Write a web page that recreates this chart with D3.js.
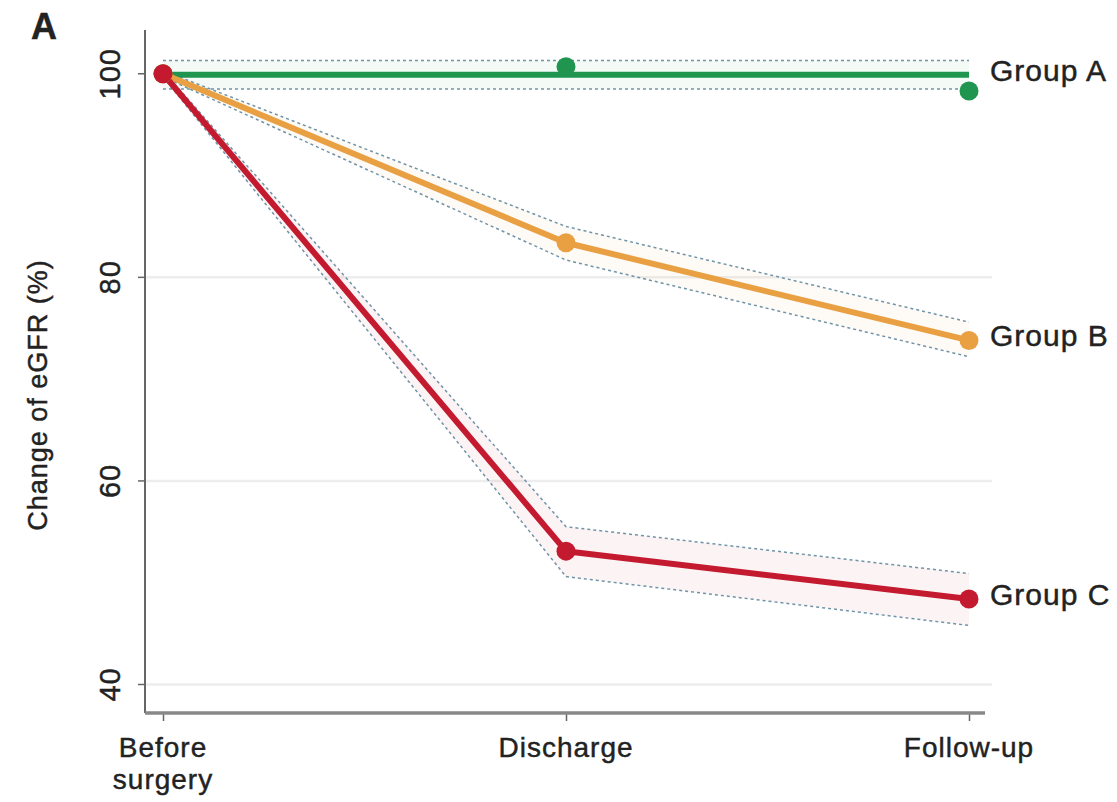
<!DOCTYPE html>
<html>
<head>
<meta charset="utf-8">
<script src="https://cdn.jsdelivr.net/npm/d3@7"></script>
<style>
  html, body { margin: 0; padding: 0; background: #fff; }
  svg { display: block; }
  text { font-family: "Liberation Sans", Arial, sans-serif; fill: #222; stroke: #222; stroke-width: 0.45px; letter-spacing: 1px; }
</style>
</head>
<body>
<svg id="chart" width="1117" height="802"></svg>
<script>
// Time points on the x axis
const timepoints = ["Before surgery", "Discharge", "Follow-up"];
const yTicks = [40, 60, 80, 100];

// Mean eGFR change (%) per group at each time point
const groupA = [100, 100.7, 98.3];
const groupB = [100, 83.4, 73.8];
const groupC = [100, 53.1, 48.4];

// Fitted trend line per group
const trendA = [99.9, 99.9, 99.9];
const trendB = [100, 83.4, 73.8];
const trendC = [100, 53.1, 48.4];

// Confidence bounds per group
const upperA = [101.3, 101.3, 101.3];
const lowerA = [98.5, 98.5, 98.5];
const upperB = [100.3, 85.0, 75.6];
const lowerB = [99.7, 81.7, 72.2];
const upperC = [100.3, 55.5, 50.9];
const lowerC = [99.7, 50.6, 45.8];

const groups = [
  { name: "Group A", color: "#1f9550", points: groupA, trend: trendA, upper: upperA, lower: lowerA },
  { name: "Group B", color: "#e9a043", points: groupB, trend: trendB, upper: upperB, lower: lowerB },
  { name: "Group C", color: "#c41a30", points: groupC, trend: trendC, upper: upperC, lower: lowerC }
];

const svg = d3.select("#chart");

const x = d3.scalePoint().domain(timepoints).range([163, 969]);
const y = d3.scaleLinear().domain([37.2, 104.3]).range([713, 30]);

const axisLeft = 145, axisRight = 985, axisBottom = 713;

// Horizontal grid lines
svg.append("g")
  .selectAll("line")
  .data(yTicks.filter(d => d < 100))
  .join("line")
  .attr("x1", axisLeft).attr("x2", 992)
  .attr("y1", d => y(d)).attr("y2", d => y(d))
  .attr("stroke", "#ededed").attr("stroke-width", 2.5);

const line = d3.line()
  .x((d, i) => x(timepoints[i]))
  .y(d => y(d));

const area = d3.area()
  .x((d, i) => x(timepoints[i]))
  .y0(d => y(d[0]))
  .y1(d => y(d[1]));

// Confidence bands
groups.forEach(g => {
  const band = g.upper.map((u, i) => [g.lower[i], u]);
  svg.append("path")
    .attr("d", area(band))
    .attr("fill", g.color)
    .attr("fill-opacity", 0.05);
  [g.upper, g.lower].forEach(b => {
    svg.append("path")
      .attr("d", line(b))
      .attr("fill", "none")
      .attr("stroke", "#6f94a8")
      .attr("stroke-width", 1.5)
      .attr("stroke-dasharray", "3 3");
  });
});

// Trend lines and markers
groups.forEach(g => {
  svg.append("path")
    .attr("d", line(g.trend))
    .attr("fill", "none")
    .attr("stroke", g.color)
    .attr("stroke-width", 6)
    .attr("stroke-linejoin", "round");
});
groups.forEach(g => {
  svg.append("g")
    .selectAll("circle")
    .data(g.points)
    .join("circle")
    .attr("cx", (d, i) => x(timepoints[i]))
    .attr("cy", d => y(d))
    .attr("r", 9.5)
    .attr("fill", g.color);
});

// Group labels at the right end of each trend line
svg.append("g")
  .selectAll("text")
  .data(groups)
  .join("text")
  .attr("x", 990)
  .attr("y", g => y(g.trend[2]) + 6)
  .attr("font-size", 30)
  .text(g => g.name);

// Y axis
const yAxis = svg.append("g")
  .call(d3.axisLeft(y).tickValues(yTicks).tickSize(7).tickFormat(""));
yAxis.select(".domain").remove();
yAxis.selectAll(".tick").attr("transform", null);
yAxis.selectAll(".tick line")
  .attr("x1", axisLeft - 7).attr("x2", axisLeft)
  .attr("y1", d => y(d)).attr("y2", d => y(d))
  .attr("stroke", "#666").attr("stroke-width", 1.5);

svg.append("g")
  .selectAll("text")
  .data(yTicks)
  .join("text")
  .attr("transform", d => `translate(120,${y(d)}) rotate(-90)`)
  .attr("text-anchor", "middle")
  .attr("font-size", 29)
  .text(d => d);

svg.append("line")
  .attr("x1", axisLeft).attr("x2", axisLeft)
  .attr("y1", 30).attr("y2", axisBottom)
  .attr("stroke", "#666").attr("stroke-width", 2);

// X axis
const xAxis = svg.append("g")
  .attr("transform", `translate(0,${axisBottom})`)
  .call(d3.axisBottom(x).tickSize(8).tickFormat(""));
xAxis.select(".domain").remove();
xAxis.selectAll(".tick line").attr("stroke", "#666").attr("stroke-width", 1.5);

svg.append("line")
  .attr("x1", axisLeft).attr("x2", axisRight)
  .attr("y1", axisBottom).attr("y2", axisBottom)
  .attr("stroke", "#888").attr("stroke-width", 3.5);

// Category labels; multi-word labels wrap onto separate lines
const labelLines = timepoints.flatMap(d => {
  const words = d === "Before surgery" ? ["Before", "surgery"] : [d];
  return words.map((w, i) => ({ key: d, text: w, row: i }));
});
svg.append("g")
  .selectAll("text")
  .data(labelLines)
  .join("text")
  .attr("x", d => x(d.key))
  .attr("y", d => 757 + d.row * 32)
  .attr("text-anchor", "middle")
  .attr("font-size", 28)
  .text(d => d.text);

// Y axis title
svg.append("text")
  .attr("transform", "translate(47,395) rotate(-90)")
  .attr("text-anchor", "middle")
  .attr("font-size", 27)
  .text("Change of eGFR (%)");

// Panel letter
svg.append("text")
  .attr("x", 31)
  .attr("y", 39)
  .attr("font-size", 36)
  .attr("font-weight", "bold")
  .style("letter-spacing", "0px")
  .text("A");
</script>
</body>
</html>
